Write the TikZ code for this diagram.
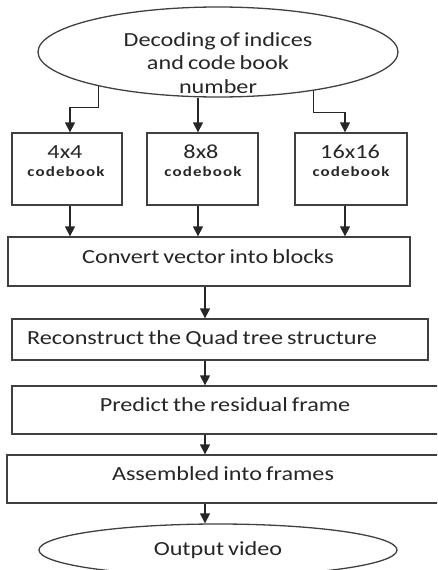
\documentclass[tikz,border=0pt]{standalone}
\usepackage{fontspec}
\setmainfont{Carlito}[FakeStretch=1.21,WordSpace=0.75]
\usetikzlibrary{shapes.geometric,arrows.meta}

\begin{document}
\begin{tikzpicture}[x=1pt,y=-1pt,
    font=\fontsize{20}{23.5}\selectfont,
    box/.style={draw=black!75,line width=1.3pt,inner sep=0pt},
    oval/.style={ellipse,draw=black!75,line width=1.3pt,inner sep=0pt},
    txt/.style={text=black!85,align=center,inner sep=0pt},
    cb/.style={font=\fontsize{14}{16}\selectfont\bfseries\addfontfeature{LetterSpace=8}},
    arr/.style={-{Triangle[width=10pt,length=10pt]},line width=1.3pt,draw=black!85}]
  \useasboundingbox (0,0) rectangle (437,570);
  \clip (0,0) rectangle (437,570);

  % columns and spine of the arrows
  \coordinate (col4) at (70,0);
  \coordinate (col8) at (198,0);
  \coordinate (col16) at (345,0);
  \coordinate (spine) at (205,0);

  \node[oval,minimum width=360,minimum height=90] (dec) at (218,52) {};
  \node[txt] (dectext) at (218,63) {Decoding of indices\\and code book\\number};

  \node[box,minimum width=110,minimum height=72] (b4) at (67,169) {};
  \node[txt] (t4) at (65,152) {4x4};
  \node[txt,cb] (c4) at (66,172) {codebook};
  \node[box,minimum width=111,minimum height=72] (b8) at (202.5,169) {};
  \node[txt] (t8) at (201,152) {8x8};
  \node[txt,cb] (c8) at (203,172) {codebook};
  \node[box,minimum width=112,minimum height=72] (b16) at (351,169) {};
  \node[txt] (t16) at (350,152) {16x16};
  \node[txt,cb] (c16) at (351,172) {codebook};

  \node[box,minimum width=402,minimum height=49] (conv) at (209,261.5) {};
  \node[txt] (convtext) at (208,257) {Convert vector into blocks};
  \node[box,minimum width=416,minimum height=41] (rec) at (220,339.5) {};
  \node[txt] (rectext) at (202,339) {Reconstruct the Quad tree structure};
  \node[box,minimum width=433,minimum height=48] (pred) at (228.5,410) {};
  \node[txt] (predtext) at (225,405) {Predict the residual frame};
  \node[box,minimum width=438,minimum height=48] (asm) at (226,479) {};
  \node[txt] (asmtext) at (223,474) {Assembled into frames};
  \node[oval,minimum width=358,minimum height=52] (out) at (218,550) {};
  \node[txt] (outtext) at (218,550) {Output video};

  % arrows
  \draw[arr] (dec.196) -- ++(0,21) -| (col4 |- b4.north);
  \draw[arr] (col8 |- dec.south) -- (col8 |- b8.north);
  \draw[arr] (dec.338) -- ++(0,22) -| (col16 |- b16.north);
  \draw[arr] (col4 |- b4.south) -- (col4 |- conv.north);
  \draw[arr] (col8 |- b8.south) -- (col8 |- conv.north);
  \draw[arr] (col16 |- b16.south) -- (col16 |- conv.north);
  \draw[arr] (spine |- conv.south) -- (spine |- rec.north);
  \draw[arr] (spine |- rec.south) -- (spine |- pred.north);
  \draw[arr] (spine |- pred.south) -- (spine |- asm.north);
  \draw[arr] (spine |- asm.south) -- (spine |- out.north);
\end{tikzpicture}
\end{document}
